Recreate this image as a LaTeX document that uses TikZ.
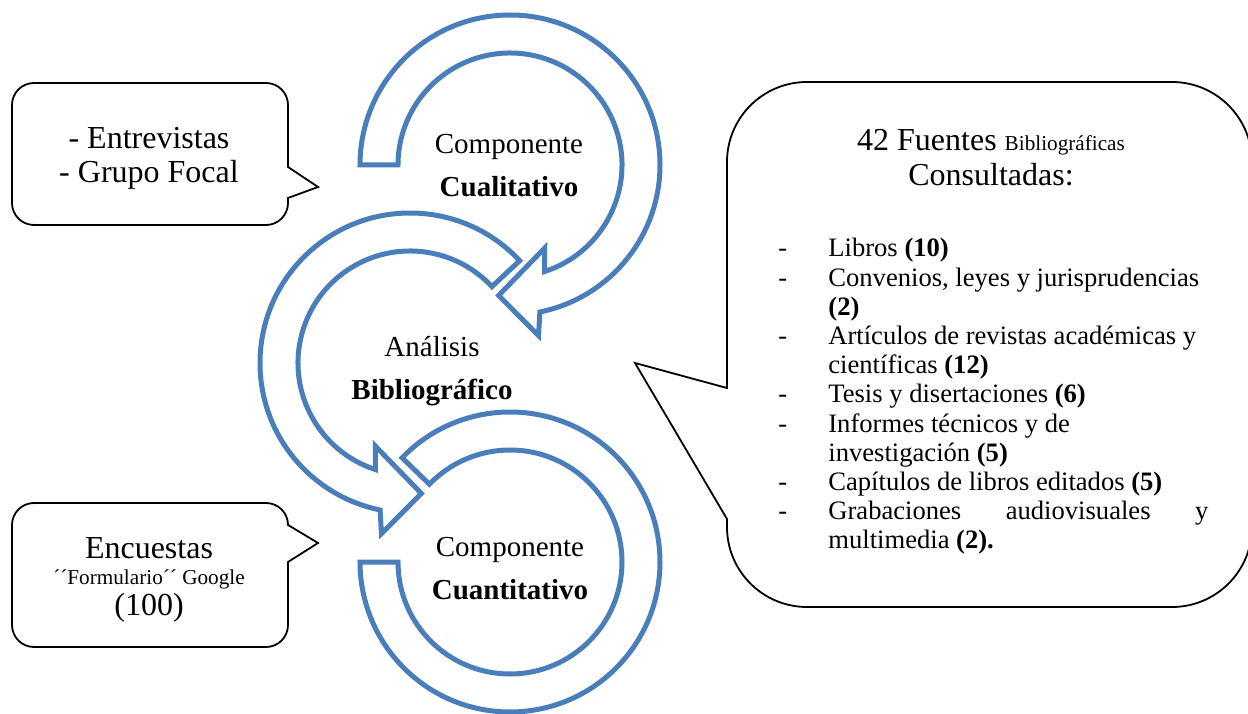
\documentclass[tikz,border=0pt]{standalone}
\usepackage{fontspec}
\setmainfont{Liberation Serif}
\definecolor{azulflecha}{RGB}{74,126,187}

% flecha circular con punta: centro x, centro y, angulo cola, angulo base punta, sentido (1 / -1)
\newcommand{\flecha}[5]{
	\begin{scope}[shift={(#1,#2)}]
		\draw[banda] (#3:150) arc[start angle=#3, end angle={#4+#5*6.5}, radius=150]
			-- ({#4+#5*8.5}:173) -- ({#4+#5*23}:131) -- ({#4-#5*4.7}:90)
			-- (#4:112) arc[start angle=#4, end angle=#3, radius=112] -- cycle;
	\end{scope}
}
% arco sin punta: centro x, centro y, angulo inicio, angulo fin
\newcommand{\arco}[4]{
	\begin{scope}[shift={(#1,#2)}]
		\draw[banda] (#3:150) arc[start angle=#3, end angle=#4, radius=150]
			-- (#4:112) arc[start angle=#4, end angle=#3, radius=112] -- cycle;
	\end{scope}
}
% globo con pico a la derecha: x1, y1, x2, y2, radio, pico arriba, punta x, punta y, pico abajo
\newcommand{\globoder}[9]{
	\draw[globo] (#1+#5,#4) -- (#3-#5,#4) arc[start angle=90, end angle=0, radius=#5]
		-- (#3,#6) -- (#7,#8) -- (#3,#9)
		-- (#3,#2+#5) arc[start angle=0, end angle=-90, radius=#5]
		-- (#1+#5,#2) arc[start angle=270, end angle=180, radius=#5]
		-- (#1,#4-#5) arc[start angle=180, end angle=90, radius=#5] -- cycle;
}
% globo con pico a la izquierda
\newcommand{\globoizq}[9]{
	\draw[globo] (#1+#5,#4) -- (#3-#5,#4) arc[start angle=90, end angle=0, radius=#5]
		-- (#3,#2+#5) arc[start angle=0, end angle=-90, radius=#5]
		-- (#1+#5,#2) arc[start angle=270, end angle=180, radius=#5]
		-- (#1,#9) -- (#7,#8) -- (#1,#6)
		-- (#1,#4-#5) arc[start angle=180, end angle=90, radius=#5] -- cycle;
}
\newcommand{\guion}{\makebox[25pt][l]{-}}
\newcommand{\sangria}{\hspace*{25pt}}

\tikzset{
	banda/.style={draw=azulflecha, line width=2.5pt, fill=white, line join=miter},
	globo/.style={draw=black, line width=0.9pt, fill=white},
	etiqueta/.style={align=center, inner sep=0pt, font=\fontsize{14.5}{21.5}\selectfont},
	texto/.style={align=center, inner sep=0pt, font=\fontsize{16}{17}\selectfont},
	lista/.style={align=left, inner sep=0pt, font=\fontsize{13.3}{14.6}\selectfont}
}

\begin{document}
\begin{tikzpicture}[x=0.5pt, y=0.5pt]
	\useasboundingbox (0,0) rectangle (1248,713);
	% flechas
	\flecha{510}{548}{180}{-72}{-1}
	\flecha{410}{350}{43}{252}{1}
	\arco{510}{151}{136}{-180}
	\node[etiqueta] (cuali) at (509,547.5) {Componente\\\textbf{Cualitativo}};
	\node[etiqueta] (analisis) at (432,341.5) {Análisis\\\textbf{Bibliográfico}};
	\node[etiqueta] (cuanti) at (510,144) {Componente\\\textbf{Cuantitativo}};
	% globos
	\globoder{12}{488}{288}{630}{22}{546}{318}{526}{515}
	\globoder{12}{66}{288}{210}{22}{188}{318}{170}{151}
	\globoizq{727}{106}{1252}{631}{80}{325}{635}{350}{194}
	\node[texto] (tecnicas) at (149,555) {- Entrevistas\\- Grupo Focal};
	\node[texto] (encuestas) at (149,133) {Encuestas\\[-4.25pt]{\fontsize{10.6}{13}\selectfont ´´Formulario´´ Google}\\[-1.5pt](100)};
	\node[texto, font=\fontsize{16}{17.5}\selectfont] (fuentes) at (991,555) {42 Fuentes {\fontsize{10.6}{17.5}\selectfont Bibliográficas}\\Consultadas:};
	\node[lista, anchor=north west] (libros) at (778,475) {\guion Libros \textbf{(10)}\\
		\guion Convenios, leyes y jurisprudencias\\
		\sangria\textbf{(2)}\\
		\guion Artículos de revistas académicas y\\
		\sangria científicas \textbf{(12)}\\
		\guion Tesis y disertaciones \textbf{(6)}\\
		\guion Informes técnicos y de\\
		\sangria investigación \textbf{(5)}\\
		\guion Capítulos de libros editados \textbf{(5)}\\
		\guion\makebox[190pt][s]{Grabaciones audiovisuales y}\\
		\sangria multimedia \textbf{(2).}};
\end{tikzpicture}
\end{document}
